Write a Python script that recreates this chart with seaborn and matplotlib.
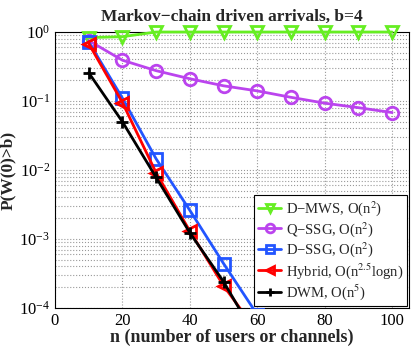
import numpy as np
import pandas as pd
import matplotlib
matplotlib.use('Agg')
import matplotlib.pyplot as plt
import seaborn as sns

n_users = [10, 20, 30, 40, 50, 60, 70, 80, 90, 100]
d_mws = [0.83, 0.855, 1.0, 1.0, 1.0, 1.0, 1.0, 1.0, 1.0, 1.0]
q_ssg = [0.75, 0.39, 0.275, 0.21, 0.166, 0.14, 0.113, 0.093, 0.080, 0.068]
n_fast = [10, 20, 30, 40, 50, 60, 70]
d_ssg = [0.72, 0.11, 0.0145, 0.0026, 0.00044, 0.00008, 0.000015]
hybrid = [0.68, 0.095, 0.0091, 0.0013, 0.00021, 0.000045, 0.000009]
dwm = [0.257, 0.05, 0.0078, 0.00123, 0.00024, 0.000035, 0.000006]

labels = ['D\u2212MWS, O(n$^{2}$)', 'Q\u2212SSG, O(n$^{2}$)', 'D\u2212SSG, O(n$^{2}$)',
          'Hybrid, O(n$^{2.5}$logn)', 'DWM, O(n$^{5}$)']
colors = ['#66ee22', '#bb44ee', '#2255ff', '#ff0000', '#000000']
markers = ['v', 'o', 's', '<', '+']
clips = [False, False, True, True, True]

series = [(n_users, d_mws), (n_users, q_ssg), (n_fast, d_ssg), (n_fast, hybrid), (n_fast, dwm)]

sns.set_style('white')
plt.rcParams['font.family'] = ['Liberation Serif', 'DejaVu Serif']
plt.rcParams['mathtext.fontset'] = 'stix'

fig = plt.figure(figsize=(4.15, 3.46), dpi=100)
ax = fig.add_axes([0.1325, 0.11, 0.853, 0.7975])

for (x, y), lab, c, m, cl in zip(series, labels, colors, markers, clips):
    df = pd.DataFrame({'n': x, 'p': y})
    sns.lineplot(data=df, x='n', y='p', ax=ax, color=c, marker=m, label=lab,
                 linewidth=2, markersize=9, markerfacecolor='none',
                 markeredgecolor=c, markeredgewidth=2, clip_on=cl, zorder=3)

ax.set_yscale('log')
ax.set_xlim(0, 105)
ax.set_ylim(1e-4, 1)
ax.set_xticks([0, 20, 40, 60, 80, 100])
ax.grid(True, which='major', linestyle=':', color='#999999', linewidth=0.8)
ax.grid(True, which='minor', axis='y', linestyle=':', color='#999999', linewidth=0.8)
ax.tick_params(axis='both', which='both', direction='in', labelsize=12, colors='black')
ax.tick_params(which='major', length=4)
ax.tick_params(which='minor', length=2)
for s in ax.spines.values():
    s.set_color('black')
    s.set_linewidth(0.8)

ax.set_title('Markov\u2212chain driven arrivals, b=4', fontsize=12.5, fontweight='bold', pad=8)
ax.set_xlabel('n (number of users or channels)', fontsize=13, fontweight='bold', labelpad=0)
ax.set_ylabel('P(W(0)>b)', fontsize=12.5, fontweight='bold', labelpad=2)

leg = ax.legend(loc='lower right', fontsize=10.5, frameon=True, fancybox=False,
                edgecolor='black', framealpha=1, handlelength=1.6, handletextpad=0.3,
                borderpad=0.25, labelspacing=0.12, borderaxespad=0.15, markerscale=0.7)
leg.get_frame().set_linewidth(0.8)
leg.set_zorder(5)

fig.savefig('out.png', dpi=100)
